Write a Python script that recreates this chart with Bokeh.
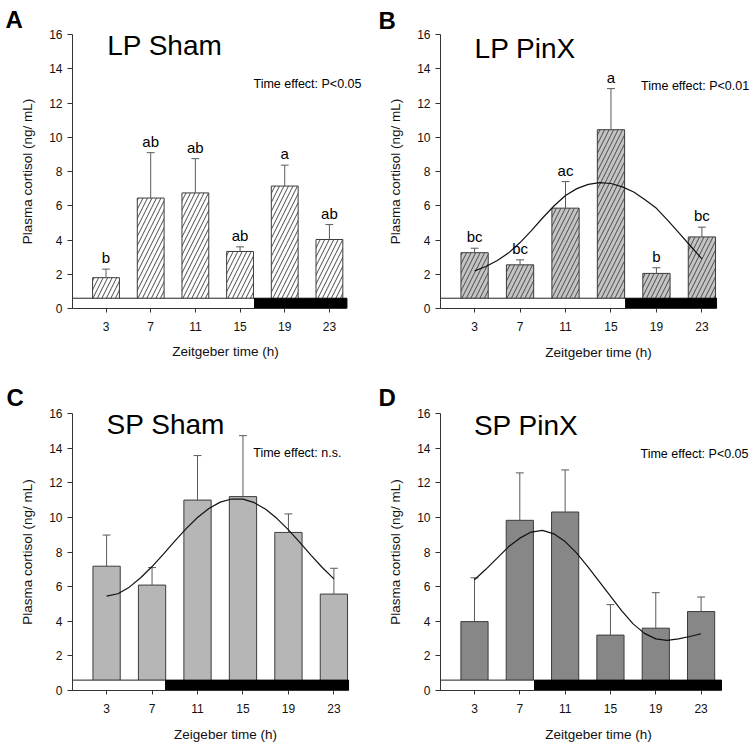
from bokeh.plotting import figure
from bokeh.layouts import gridplot
from bokeh.models import Range1d, FixedTicker, Label, ColumnDataSource, Title
from bokeh.core.properties import value
from bokeh.embed import file_html
from bokeh.resources import INLINE

FONT = "Liberation Sans"

# ---------------- data ----------------
zt = [3, 7, 11, 15, 19, 23]
y_ticks = [0, 2, 4, 6, 8, 10, 12, 14, 16]

a_mean = [1.80, 6.45, 6.75, 3.33, 7.15, 4.03]
a_sem = [0.50, 2.65, 2.00, 0.27, 1.22, 0.87]
a_letters = ["b", "ab", "ab", "ab", "a", "ab"]

b_mean = [3.26, 2.55, 5.86, 10.44, 2.05, 4.18]
b_sem = [0.26, 0.29, 1.55, 2.40, 0.33, 0.57]
b_letters = ["bc", "bc", "ac", "a", "b", "bc"]

c_mean = [7.18, 6.09, 11.00, 11.20, 9.13, 5.57]
c_sem = [1.80, 1.01, 2.57, 3.52, 1.07, 1.49]

d_mean = [3.98, 9.83, 10.31, 3.20, 3.60, 4.56]
d_sem = [2.53, 2.74, 2.43, 1.76, 2.05, 0.84]

curve_x = [3, 4, 5, 6, 7, 8, 9, 10, 11, 12, 13, 14, 15, 16, 17, 18, 19, 20, 21, 22, 23]
b_curve = [2.20, 2.45, 2.80, 3.25, 3.85, 4.55, 5.30, 6.00, 6.60, 7.00, 7.25, 7.35, 7.30,
           7.10, 6.80, 6.35, 5.85, 5.15, 4.40, 3.65, 2.90]
c_curve = [5.45, 5.59, 5.97, 6.51, 7.16, 7.88, 8.63, 9.35, 9.99, 10.51, 10.88, 11.06,
           11.05, 10.85, 10.47, 9.93, 9.28, 8.56, 7.81, 7.09, 6.45]
d_curve = [6.40, 7.00, 7.65, 8.30, 8.80, 9.15, 9.25, 9.05, 8.60, 7.95, 7.15, 6.30, 5.45,
           4.60, 3.85, 3.30, 2.98, 2.90, 2.98, 3.12, 3.28]

titles = ["LP Sham", "LP PinX", "SP Sham", "SP PinX"]
panel_letters = ["A", "B", "C", "D"]
effects = ["Time effect: P<0.05", "Time effect: P<0.01", "Time effect: n.s.", "Time effect: P<0.05"]
x_labels = ["Zeitgeber time (h)", "Zeitgeber time (h)", "Zeigeber time (h)", "Zeitgeber time (h)"]
light_end = [16.3, 16.3, 8.2, 8.3]
bar_end = [24.57, 24.29, 24.29, 24.8]


def make_panel(mean, sem, letters, curve, title, pletter, effect, xlabel, lend, x_end,
               fill, hatch, fig_w, borders, pxu, title_pos, effect_pos, letter_off,
               letter_standoff, xlabel_off, xlabel_standoff):
    bl, br, bt, bb = borders
    x_range_end = (fig_w - bl - br) / pxu
    p = figure(width=fig_w, height=377, output_backend="svg", toolbar_location=None,
               x_range=Range1d(0, x_range_end), y_range=Range1d(0, 16),
               min_border_left=bl, min_border_right=br, min_border_top=bt,
               min_border_bottom=bb, background_fill_color="white",
               border_fill_color="white", outline_line_color=None)
    p.xgrid.visible = False
    p.ygrid.visible = False

    top = [m + s for m, s in zip(mean, sem)]
    src = ColumnDataSource(dict(x=zt, top=mean, err=top))
    kw = dict(fill_color=fill, line_color="#3c3c3c", line_width=1)
    if hatch:
        kw.update(hatch_pattern="/", hatch_color="#4a4a4a", hatch_scale=9, hatch_weight=1)
    p.vbar(x="x", top="top", bottom=0, width=2.4, source=src, **kw)

    # light/dark bar
    p.quad(left=[0], right=[lend], bottom=[0], top=[0.6], fill_color="white",
           line_color="#222222", line_width=1)
    p.quad(left=[lend], right=[x_end], bottom=[0], top=[0.6], fill_color="black",
           line_color="black", line_width=1)

    # error bars
    p.segment(x0="x", y0="top", x1="x", y1="err", source=src, line_color="#5a5a5a", line_width=1)
    cap_l = [x - 0.35 for x in zt]
    cap_r = [x + 0.35 for x in zt]
    p.segment(x0=cap_l, y0=top, x1=cap_r, y1=top, line_color="#5a5a5a", line_width=1)

    if curve is not None:
        p.line(curve_x, curve, line_color="#111111", line_width=1.2)

    if letters is not None:
        p.text(x=zt, y=top, text=letters, text_align="center", text_baseline="bottom",
               y_offset=-3, text_font=value(FONT), text_font_size="15px", text_color="black")

    p.add_layout(Label(x=title_pos[0], y=title_pos[1], text=title, text_font=FONT,
                       text_font_size="28px", text_color="black"))
    p.add_layout(Label(x=effect_pos[0], y=effect_pos[1], text=effect, text_font=FONT,
                       text_font_size="12.5px", text_color="black"))
    p.add_layout(Title(text=pletter, align="left", offset=letter_off, standoff=letter_standoff,
                       text_font=FONT, text_font_size="24px", text_font_style="bold",
                       text_color="black"), "above")

    # axes
    ya = p.yaxis[0]
    ya.ticker = FixedTicker(ticks=y_ticks)
    ya.minor_tick_line_color = None
    ya.major_tick_in = 0
    ya.major_tick_out = 5
    ya.major_label_standoff = 5
    ya.axis_label = "Plasma cortisol (ng/ mL)"
    ya.axis_label_standoff = 11
    xa = p.xaxis[0]
    xa.ticker = FixedTicker(ticks=zt)
    xa.bounds = (0, x_end)
    xa.minor_tick_line_color = None
    xa.major_tick_in = 0
    xa.major_tick_out = 4
    xa.major_label_standoff = 9
    for ax in (xa, ya):
        ax.axis_line_color = "#333333"
        ax.major_tick_line_color = "#333333"
        ax.major_label_text_font = FONT
        ax.major_label_text_font_size = "12px"
        ax.major_label_text_color = "#111111"
        ax.axis_label_text_font = FONT
        ax.axis_label_text_font_size = "13.5px"
        ax.axis_label_text_font_style = "normal"
        ax.axis_label_text_color = "#111111"
    # x-axis title centred under the drawn part of the axis
    p.add_layout(Title(text=xlabel, align="center", offset=xlabel_off, standoff=xlabel_standoff,
                       text_font=FONT, text_font_size="13.5px", text_font_style="normal",
                       text_color="#111111"), "below")
    return p


pa = make_panel(a_mean, a_sem, a_letters, None, titles[0], panel_letters[0], effects[0],
                x_labels[0], light_end[0], bar_end[0], "white", True, 378, (72, 0, 34, 69), 11.17,
                (3.1, 14.45), (16.2, 12.72), -67, 4, -16, 16)
pb = make_panel(b_mean, b_sem, b_letters, b_curve, titles[1], panel_letters[1], effects[1],
                x_labels[1], light_end[1], bar_end[1], "#c4c4c4", True, 378, (62, 0, 32, 67), 11.365,
                (3.0, 14.3), (17.65, 12.6), -62, 2, -18, 18)
pc = make_panel(c_mean, c_sem, None, c_curve, titles[2], panel_letters[2], effects[2],
                x_labels[2], light_end[2], bar_end[2], "#b6b6b6", False, 378, (72, 0, 36, 63), 11.365,
                (3.0, 14.45), (15.9, 13.3), -66, 6, -14, 19)
pd_ = make_panel(d_mean, d_sem, None, d_curve, titles[3], panel_letters[3], effects[3],
                 x_labels[3], light_end[3], bar_end[3], "#878787", False, 378, (62, 0, 34, 64), 11.33,
                 (2.95, 14.39), (17.65, 13.28), -62, 6, -18, 19)

grid = gridplot([[pa, pb], [pc, pd_]], toolbar_location=None)

open("out.html", "w").write(file_html(grid, INLINE))
